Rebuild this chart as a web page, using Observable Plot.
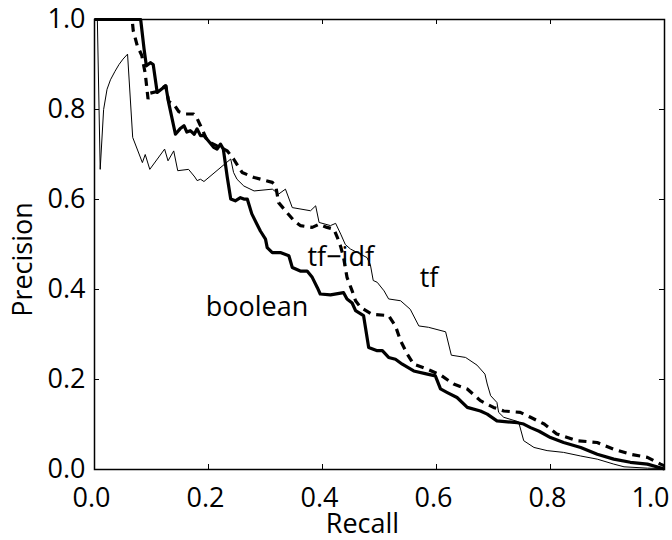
<!DOCTYPE html>
<html>
<head>
<meta charset="utf-8">
<script src="https://cdn.jsdelivr.net/npm/d3@7"></script>
<script src="https://cdn.jsdelivr.net/npm/@observablehq/plot@0.6"></script>
<style>
  html, body { margin: 0; padding: 0; background: #fff; }
</style>
</head>
<body>
<div id="chart"></div>
<script>
// ---- data: [recall, precision] ----
const tf = [
  [0,1.0],[0.005,1.0],[0.010,0.667],[0.016,0.800],[0.022,0.845],[0.028,0.866],[0.036,0.885],
  [0.043,0.900],[0.050,0.912],[0.058,0.923],[0.067,0.738],[0.084,0.682],[0.089,0.700],
  [0.097,0.667],[0.123,0.712],[0.129,0.686],[0.139,0.708],[0.146,0.664],[0.165,0.667],
  [0.176,0.650],[0.180,0.642],[0.186,0.645],[0.192,0.640],[0.239,0.690],[0.244,0.660],
  [0.250,0.645],[0.262,0.630],[0.280,0.619],[0.312,0.623],[0.323,0.612],[0.335,0.623],
  [0.347,0.582],[0.379,0.575],[0.388,0.586],[0.394,0.549],[0.414,0.542],[0.423,0.547],
  [0.432,0.523],[0.440,0.500],[0.449,0.490],[0.478,0.471],[0.484,0.455],[0.489,0.420],
  [0.496,0.416],[0.508,0.397],[0.516,0.379],[0.537,0.375],[0.554,0.356],[0.569,0.319],
  [0.586,0.316],[0.616,0.306],[0.626,0.254],[0.651,0.249],[0.671,0.232],[0.685,0.212],
  [0.689,0.190],[0.695,0.164],[0.706,0.149],[0.709,0.127],[0.718,0.116],[0.744,0.106],
  [0.753,0.064],[0.771,0.049],[0.794,0.042],[0.823,0.038],[0.853,0.030],[0.882,0.023],
  [0.911,0.012],[0.929,0.006],[0.970,0.003],[1.0,0.002]
];
const tfidf = [
  [0,1.0],[0.066,1.0],[0.068,0.975],[0.075,0.942],[0.083,0.920],[0.089,0.880],[0.094,0.823],
  [0.097,0.836],[0.110,0.840],[0.125,0.853],[0.130,0.818],[0.139,0.812],[0.148,0.795],
  [0.160,0.790],[0.174,0.790],[0.180,0.780],[0.186,0.764],[0.198,0.730],[0.215,0.719],
  [0.233,0.708],[0.244,0.690],[0.259,0.660],[0.280,0.649],[0.312,0.638],[0.318,0.630],
  [0.323,0.593],[0.335,0.575],[0.350,0.553],[0.361,0.542],[0.382,0.538],[0.394,0.545],
  [0.408,0.538],[0.420,0.534],[0.426,0.516],[0.432,0.495],[0.437,0.471],[0.443,0.427],
  [0.452,0.397],[0.458,0.375],[0.467,0.360],[0.487,0.345],[0.516,0.342],[0.528,0.319],
  [0.537,0.286],[0.549,0.256],[0.560,0.234],[0.584,0.223],[0.607,0.210],[0.630,0.190],
  [0.654,0.179],[0.677,0.153],[0.700,0.138],[0.718,0.130],[0.747,0.127],[0.765,0.116],
  [0.789,0.101],[0.811,0.079],[0.847,0.064],[0.882,0.060],[0.911,0.045],[0.940,0.034],
  [0.970,0.027],[0.993,0.012],[1.0,0.008]
];
const boolean = [
  [0,1.0],[0.081,1.0],[0.087,0.934],[0.091,0.897],[0.098,0.904],[0.103,0.900],[0.110,0.838],
  [0.125,0.853],[0.130,0.816],[0.142,0.745],[0.150,0.757],[0.157,0.764],[0.162,0.750],
  [0.168,0.753],[0.175,0.745],[0.180,0.757],[0.186,0.742],[0.192,0.742],[0.200,0.730],
  [0.209,0.716],[0.215,0.712],[0.221,0.723],[0.226,0.712],[0.233,0.649],[0.239,0.601],
  [0.247,0.597],[0.256,0.604],[0.262,0.601],[0.268,0.601],[0.276,0.568],[0.285,0.545],
  [0.291,0.530],[0.300,0.512],[0.303,0.493],[0.312,0.482],[0.326,0.482],[0.341,0.475],
  [0.347,0.449],[0.361,0.441],[0.373,0.441],[0.382,0.427],[0.391,0.404],[0.396,0.390],
  [0.414,0.388],[0.437,0.393],[0.443,0.379],[0.452,0.370],[0.458,0.353],[0.472,0.342],
  [0.481,0.271],[0.496,0.264],[0.505,0.264],[0.516,0.249],[0.528,0.245],[0.540,0.234],
  [0.560,0.219],[0.584,0.212],[0.598,0.208],[0.607,0.179],[0.619,0.171],[0.636,0.160],
  [0.654,0.138],[0.677,0.130],[0.689,0.123],[0.706,0.108],[0.742,0.104],[0.753,0.101],
  [0.765,0.093],[0.780,0.085],[0.800,0.071],[0.823,0.060],[0.853,0.049],[0.882,0.034],
  [0.911,0.023],[0.940,0.016],[0.970,0.012],[1.0,0.001]
];
const seriesLabels = [
  {text: "boolean", x: 0.195, y: 0.360, anchor: "start"},
  {text: "tf\u2212idf", x: 0.432, y: 0.472, anchor: "middle"},
  {text: "tf", x: 0.587, y: 0.424, anchor: "middle"}
];
const xTicks = [0, 0.2, 0.4, 0.6, 0.8, 1.0];
const yTicks = [0, 0.2, 0.4, 0.6, 0.8, 1.0];
const xTitle = "Recall";
const yTitle = "Precision";

// ---- layout ----
const W = 672, H = 540;
const mL = 94, mR = 8, mT = 19, mB = 71;
const fw = W - mL - mR, fh = H - mT - mB;
const fmt = d3.format(".1f");
const tickLen = 5;

const chart = Plot.plot({
  width: W, height: H,
  marginLeft: mL, marginRight: mR, marginTop: mT, marginBottom: mB,
  style: {fontFamily: "'Open Sans', sans-serif", fontSize: "27px", color: "black", background: "white"},
  x: {domain: [0, 1]},
  y: {domain: [0, 1]},
  marks: [
    Plot.frame({stroke: "black", strokeWidth: 1.5}),
    // inward ticks on four sides
    Plot.tickX(xTicks, {x: d => d, insetTop: fh - tickLen, stroke: "black", strokeWidth: 1}),
    Plot.tickX(xTicks, {x: d => d, insetBottom: fh - tickLen, stroke: "black", strokeWidth: 1}),
    Plot.tickY(yTicks, {y: d => d, insetRight: fw - tickLen, stroke: "black", strokeWidth: 1}),
    Plot.tickY(yTicks, {y: d => d, insetLeft: fw - tickLen, stroke: "black", strokeWidth: 1}),
    // tick labels
    Plot.axisY(yTicks, {tickSize: 0, tickPadding: 9, tickFormat: fmt, label: null, fill: "black"}),
    Plot.axisX(xTicks.slice(0, -1), {tickSize: 0, tickPadding: 18, dx: -3, tickFormat: fmt, label: null, fill: "black"}),
    Plot.axisX(xTicks.slice(-1), {tickSize: 0, tickPadding: 18, dx: 5, textAnchor: "end", tickFormat: fmt, label: null, fill: "black"}),
    // curves
    Plot.line(tf, {x: d => d[0], y: d => d[1], stroke: "black", strokeWidth: 1, strokeLinejoin: "miter", strokeLinecap: "butt"}),
    Plot.line(tfidf, {x: d => d[0], y: d => d[1], stroke: "black", strokeWidth: 3.2, strokeDasharray: "8,6", strokeLinejoin: "miter", strokeLinecap: "butt"}),
    Plot.line(boolean, {x: d => d[0], y: d => d[1], stroke: "black", strokeWidth: 3.2, strokeLinejoin: "round", strokeLinecap: "butt"}),
    // series labels
    Plot.text(seriesLabels.filter(d => d.anchor === "start"), {x: "x", y: "y", text: "text", textAnchor: "start", fill: "black"}),
    Plot.text(seriesLabels.filter(d => d.anchor === "middle"), {x: "x", y: "y", text: "text", textAnchor: "middle", fill: "black"}),
    // axis titles
    Plot.text([xTitle], {text: d => d, frameAnchor: "bottom", textAnchor: "middle", lineAnchor: "top", dy: 44, dx: -17, fill: "black"}),
    Plot.text([yTitle], {text: d => d, frameAnchor: "left", textAnchor: "middle", rotate: -90, lineAnchor: "middle", dx: -71, dy: 15, fill: "black"})
  ]
});
document.getElementById("chart").appendChild(chart);
</script>
</body>
</html>
